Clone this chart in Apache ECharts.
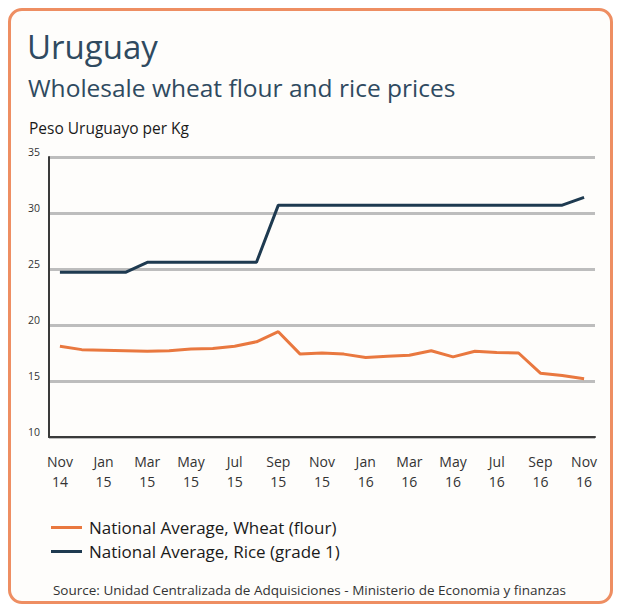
<!DOCTYPE html>
<html>
<head>
<meta charset="utf-8">
<script src="https://cdn.jsdelivr.net/npm/echarts@6/dist/echarts.min.js"></script>
<style>
  html, body { margin: 0; padding: 0; background: #ffffff; }
  #card {
    position: absolute; left: 8px; top: 8px; width: 599px; height: 590px;
    border: 3px solid #ee8e62; border-radius: 14px; background: #fefdfb;
  }
  #main { position: absolute; left: 0; top: 0; width: 619px; height: 610px; }
</style>
</head>
<body>
<div id="card"></div>
<div id="main"></div>
<script>
// months Nov 14 .. Nov 16
var months = ['Nov\n14', 'Dec\n14', 'Jan\n15', 'Feb\n15', 'Mar\n15', 'Apr\n15', 'May\n15', 'Jun\n15', 'Jul\n15', 'Aug\n15', 'Sep\n15', 'Oct\n15',
  'Nov\n15', 'Dec\n15', 'Jan\n16', 'Feb\n16', 'Mar\n16', 'Apr\n16', 'May\n16', 'Jun\n16', 'Jul\n16', 'Aug\n16', 'Sep\n16', 'Oct\n16', 'Nov\n16'];
var wheat = [18.1, 17.8, 17.75, 17.7, 17.65, 17.7, 17.85, 17.9, 18.1, 18.5, 19.4, 17.4,
  17.5, 17.4, 17.1, 17.2, 17.3, 17.7, 17.15, 17.65, 17.55, 17.5, 15.7, 15.5, 15.2];
var rice = [24.7, 24.7, 24.7, 24.7, 25.6, 25.6, 25.6, 25.6, 25.6, 25.6, 30.7, 30.7,
  30.7, 30.7, 30.7, 30.7, 30.7, 30.7, 30.7, 30.7, 30.7, 30.7, 30.7, 30.7, 31.4];
var yTicks = [10, 15, 20, 25, 30, 35];

var myChart = echarts.init(document.getElementById('main'), null, {renderer: 'svg'});
var option = {
  animation: false,
  title: [
    {text: 'Uruguay', left: 22, top: 25, textStyle: {fontFamily: 'Open Sans', fontSize: 33, fontWeight: 'normal', color: '#2f4a60'}},
    {text: 'Wholesale wheat flour and rice prices', left: 23, top: 70, textStyle: {fontFamily: 'Open Sans', fontSize: 24.5, fontWeight: 'normal', color: '#2f4a60'}},
    {text: 'Peso Uruguayo per Kg', left: 24, top: 115, textStyle: {fontFamily: 'Open Sans', fontSize: 15.5, fontWeight: 'normal', color: '#1a1a1a'}},
    {text: 'Source: Unidad Centralizada de Adquisiciones - Ministerio de Economia y finanzas', left: 'center', top: 578,
      textStyle: {fontFamily: 'Open Sans', fontSize: 13.5, fontWeight: 'normal', color: '#333'}}
  ],
  legend: {
    orient: 'vertical', left: 46, top: 514, itemWidth: 31, itemHeight: 3, itemGap: 7,
    icon: 'rect',
    textStyle: {fontFamily: 'Open Sans', fontSize: 17, color: '#1a1a1a', padding: [0, 0, 0, 2]},
    data: ['National Average, Wheat (flour)', 'National Average, Rice (grade 1)']
  },
  grid: {left: 49, right: 24, top: 157, bottom: 173},
  xAxis: [
    {
      type: 'category', data: months, boundaryGap: true,
      axisLine: {lineStyle: {color: '#3a3a3a', width: 2}},
      axisTick: {alignWithLabel: true, interval: 0, length: 6, lineStyle: {color: '#3a3a3a', width: 2}},
      axisLabel: {show: false},
      splitLine: {show: false}
    },
    {
      type: 'category', data: months, boundaryGap: true, position: 'bottom',
      axisLine: {show: false},
      axisTick: {alignWithLabel: true, interval: 1, length: 10, lineStyle: {color: '#3a3a3a', width: 2}},
      axisLabel: {interval: 1, margin: 14, fontFamily: 'Open Sans', fontSize: 14, lineHeight: 20, color: '#333'}
    }
  ],
  yAxis: {
    type: 'value', min: yTicks[0], max: yTicks[yTicks.length - 1], interval: 5,
    axisLine: {show: true, lineStyle: {color: '#3a3a3a', width: 2}},
    axisTick: {show: false},
    axisLabel: {fontFamily: 'Open Sans', fontSize: 10.5, color: '#333', margin: 9, verticalAlign: 'bottom'},
    splitLine: {lineStyle: {color: '#bdbdbd', width: 3}}
  },
  series: [
    {
      name: 'National Average, Wheat (flour)', type: 'line', data: wheat, showSymbol: false,
      itemStyle: {color: '#e9783f'}, lineStyle: {color: '#e9783f', width: 3}
    },
    {
      name: 'National Average, Rice (grade 1)', type: 'line', data: rice, showSymbol: false,
      itemStyle: {color: '#1e3a50'}, lineStyle: {color: '#1e3a50', width: 3}
    }
  ]
};
myChart.setOption(option);
</script>
</body>
</html>
